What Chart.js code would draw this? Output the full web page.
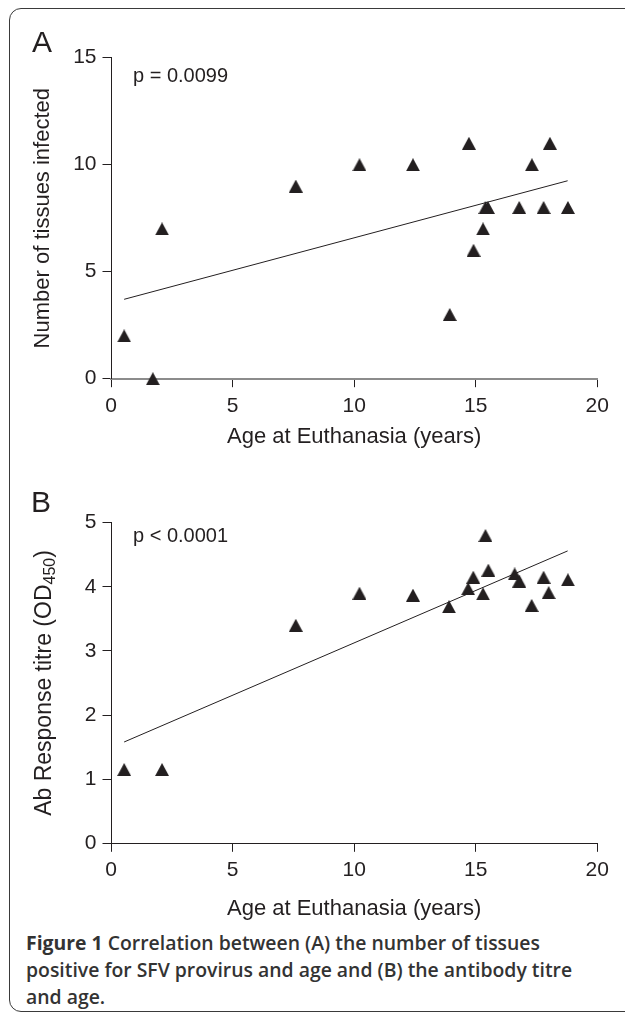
<!DOCTYPE html>
<html>
<head>
<meta charset="utf-8">
<script src="https://cdn.jsdelivr.net/npm/chart.js@4.4.1/dist/chart.umd.min.js"></script>
<style>
  html, body { margin: 0; padding: 0; background: #fff; }
  body { width: 625px; height: 1017px; position: relative; overflow: hidden; }
  .frame {
    position: absolute; left: 9px; top: 8px; width: 660px; height: 1004px;
    border: 1.4px solid #3a3a3a; border-radius: 12px; box-sizing: border-box;
  }
  .panel { position: absolute; left: 0; }
  #panelA { top: 0; width: 625px; height: 460px; }
  #panelB { top: 470px; width: 625px; height: 454px; }
  .caption {
    position: absolute; left: 26px; top: 929px; width: 600px; white-space: nowrap;
    font-family: 'Open Sans', 'Noto Sans', sans-serif; font-size: 19.4px;
    line-height: 27px; font-weight: 600; color: #333;
  }
  .caption b { font-weight: 700; }
</style>
</head>
<body>
<div class="frame"></div>
<div class="panel" id="panelA"><canvas id="chartA"></canvas></div>
<div class="panel" id="panelB"><canvas id="chartB"></canvas></div>
<div class="caption"><b>Figure 1</b> Correlation between (A) the number of tissues<br>positive for SFV provirus and age and (B) the antibody titre<br>and age.</div>
<script>
// panel A: tissues infected vs age
const ageA = [0.54, 1.72, 2.1, 7.6, 10.22, 12.42, 13.93, 14.72, 14.91, 15.3, 15.4, 15.5, 16.79, 17.31, 17.79, 18.05, 18.79];
const tissuesA = [2, 0, 7, 9, 10, 10, 3, 11, 6, 7, 8, 8, 8, 10, 8, 11, 8];
const trendAgeA = [0.54, 18.78];
const trendA = [3.71, 9.25];

// panel B: antibody titre vs age
const ageB = [0.54, 2.1, 7.6, 10.22, 12.42, 13.9, 14.69, 14.9, 15.3, 15.4, 15.52, 16.6, 16.79, 17.3, 17.79, 18.0, 18.79];
const titreB = [1.15, 1.15, 3.40, 3.90, 3.87, 3.69, 3.97, 4.15, 3.89, 4.80, 4.26, 4.20, 4.09, 3.71, 4.15, 3.91, 4.11];
const trendAgeB = [0.54, 18.78];
const trendB = [1.58, 4.56];

const xTicks = [0, 5, 10, 15, 20];
const yTicksA = [0, 5, 10, 15];
const yTicksB = [0, 1, 2, 3, 4, 5];

const INK = '#231f20';
const FONT = "'Liberation Sans', Arial, Helvetica, sans-serif";

Chart.defaults.font.family = FONT;
Chart.defaults.font.size = 21;
Chart.defaults.color = INK;
Chart.defaults.animation = false;

// triangle marker, centred on its bounding box
const marker = document.createElement('canvas');
marker.width = 14;
marker.height = 13;
(() => {
  const c = marker.getContext('2d');
  c.fillStyle = INK;
  c.beginPath();
  c.moveTo(7, 0);
  c.lineTo(14, 13);
  c.lineTo(0, 13);
  c.closePath();
  c.fill();
})();

const toPoints = (xs, ys) => xs.map((x, i) => ({ x, y: ys[i] }));

// free text on the canvas: panel letter, p value, subscripted axis title
const panelText = {
  id: 'panelText',
  afterDraw(chart, args, opts) {
    const { ctx, chartArea } = chart;
    ctx.save();
    ctx.fillStyle = INK;
    (opts.items || []).forEach((it) => {
      ctx.font = it.font;
      ctx.textBaseline = it.baseline || 'middle';
      ctx.textAlign = 'left';
      ctx.fillText(it.text, it.x, it.y);
    });
    if (opts.yTitle) {
      const t = opts.yTitle;
      const cy = (chartArea.top + chartArea.bottom) / 2;
      ctx.translate(t.x, cy);
      ctx.rotate(-Math.PI / 2);
      ctx.textBaseline = 'middle';
      const mainFont = '23px ' + FONT;
      const subFont = '16px ' + FONT;
      ctx.font = mainFont;
      const w1 = ctx.measureText(t.main).width;
      const w3 = ctx.measureText(t.tail).width;
      ctx.font = subFont;
      const w2 = ctx.measureText(t.sub).width;
      let x = -(w1 + w2 + w3) / 2;
      ctx.font = mainFont;
      ctx.fillText(t.main, x, 0);
      x += w1;
      ctx.font = subFont;
      ctx.fillText(t.sub, x, 6);
      x += w2;
      ctx.font = mainFont;
      ctx.fillText(t.tail, x, 0);
    }
    ctx.restore();
  },
};

const makeChart = (canvas, cfg) => new Chart(canvas, {
  type: 'scatter',
  data: {
    datasets: [
      {
        data: cfg.points,
        pointStyle: marker,
        pointRadius: 7,
        pointHoverRadius: 7,
        clip: false,
      },
      {
        type: 'line',
        data: cfg.trend,
        borderColor: INK,
        borderWidth: 1,
        pointRadius: 0,
        fill: false,
      },
    ],
  },
  options: {
    responsive: true,
    maintainAspectRatio: false,
    events: [],
    layout: { padding: cfg.padding },
    plugins: {
      legend: { display: false },
      tooltip: { enabled: false },
      panelText: { items: cfg.texts, yTitle: cfg.yTitle },
    },
    scales: {
      x: {
        type: 'linear',
        min: 0,
        max: 20,
        afterFit: (s) => { s.height = cfg.xHeight; },
        afterBuildTicks: (s) => { s.ticks = xTicks.map((v) => ({ value: v })); },
        ticks: { padding: 6.2, color: INK },
        grid: { drawOnChartArea: false, drawTicks: true, tickLength: 8.5, color: INK, lineWidth: 1 },
        border: { display: true, color: cfg.xBorder, width: cfg.xBorderWidth },
        title: {
          display: true,
          text: 'Age at Euthanasia (years)',
          color: INK,
          font: { size: 22 },
          padding: { top: 0, bottom: cfg.xTitlePad },
        },
      },
      y: {
        type: 'linear',
        min: 0,
        max: cfg.yMax,
        afterFit: (s) => { s.width = 111; },
        afterBuildTicks: (s) => { s.ticks = cfg.yTicks.map((v) => ({ value: v })); },
        ticks: { padding: 6, color: INK },
        grid: { drawOnChartArea: false, drawTicks: true, tickLength: 8.5, color: INK, lineWidth: 1 },
        border: { display: true, color: INK, width: 1 },
        title: {
          display: !!cfg.yLabel,
          text: cfg.yLabel || '',
          color: INK,
          font: { size: 22 },
          padding: { top: 29.8, bottom: 0 },
        },
      },
    },
  },
  plugins: [panelText],
});

makeChart(document.getElementById('chartA'), {
  points: toPoints(ageA, tissuesA),
  trend: toPoints(trendAgeA, trendA),
  padding: { left: 0, top: 57.7, right: 27.7, bottom: 9.3 },
  xHeight: 72,
  xTitlePad: 0.5,
  xBorder: '#8c8c8c',
  xBorderWidth: 2,
  yMax: 15,
  yTicks: yTicksA,
  yLabel: 'Number of tissues infected',
  texts: [
    { text: 'A', x: 32, y: 52, font: '30px ' + FONT, baseline: 'alphabetic' },
    { text: 'p = 0.0099', x: 133, y: 76, font: '20px ' + FONT },
  ],
});

makeChart(document.getElementById('chartB'), {
  points: toPoints(ageB, titreB),
  trend: toPoints(trendAgeB, trendB),
  padding: { left: 0, top: 52.7, right: 27.7, bottom: 0.7 },
  xHeight: 80,
  xTitlePad: 1.4,
  xBorder: INK,
  xBorderWidth: 1,
  yMax: 5,
  yTicks: yTicksB,
  yLabel: null,
  yTitle: { x: 45, main: 'Ab Response titre (OD', sub: '450', tail: ')' },
  texts: [
    { text: 'B', x: 31, y: 42.3, font: '30px ' + FONT, baseline: 'alphabetic' },
    { text: 'p < 0.0001', x: 133, y: 66.7, font: '20px ' + FONT },
  ],
});
</script>
</body>
</html>
